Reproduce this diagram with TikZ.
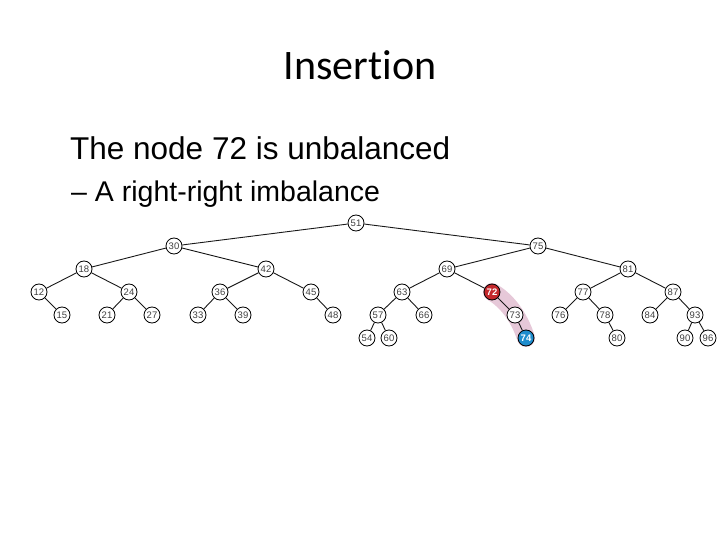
\documentclass[tikz,border=0pt]{standalone}
\usepackage{fontspec}
\setmainfont{Liberation Sans}
\newfontfamily\titlefont[Ligatures=NoCommon]{Carlito}
\usetikzlibrary{backgrounds,positioning}

\definecolor{unbal}{RGB}{196,40,44}
\definecolor{newkey}{RGB}{30,140,205}
\definecolor{band}{RGB}{230,200,216}

\begin{document}
\begin{tikzpicture}[x=1pt,y=-1pt,
  key/.style={circle,draw,line width=0.8pt,fill=white,inner sep=0pt,
    minimum size=16pt,font=\fontsize{9.5}{9.5}\selectfont,text=black!75},
  redkey/.style={key,fill=unbal,text=white,font=\fontsize{9.5}{9.5}\bfseries\selectfont},
  bluekey/.style={key,fill=newkey,text=white,font=\fontsize{9.5}{9.5}\bfseries\selectfont},
  edge/.style={line width=0.9pt,black!90}]
\useasboundingbox (0,0) rectangle (720,540);
\node[anchor=base,font=\titlefont\fontsize{42}{50}\selectfont] (title) at (360,80) {Insertion};
\node[anchor=base west,inner sep=0pt,font=\fontsize{31.5}{38}\selectfont] (line1) at (70,160) {The node 72 is unbalanced};
\node[anchor=base west,inner sep=0pt,font=\fontsize{28.5}{34}\selectfont] (line2) at (71,202) {-- A right-right imbalance};
% the tree
\node[key] (n51) at (356,223) {51};
\node[key] (n30) at (174,246) {30};
\node[key] (n75) at (538,246) {75};
\node[key] (n18) at (84,269) {18};
\node[key] (n42) at (266,269) {42};
\node[key] (n69) at (447,269) {69};
\node[key] (n81) at (628,269) {81};
\node[key] (n12) at (39,292) {12};
\node[key] (n24) at (129,292) {24};
\node[key] (n36) at (220,292) {36};
\node[key] (n45) at (311,292) {45};
\node[key] (n63) at (402,292) {63};
\node[redkey] (n72) at (492,292) {72};
\node[key] (n77) at (583,292) {77};
\node[key] (n87) at (673,292) {87};
\node[key] (n15) at (62,315) {15};
\node[key] (n21) at (107,315) {21};
\node[key] (n27) at (152,315) {27};
\node[key] (n33) at (198,315) {33};
\node[key] (n39) at (243,315) {39};
\node[key] (n48) at (333,315) {48};
\node[key] (n57) at (378,315) {57};
\node[key] (n66) at (424,315) {66};
\node[key] (n73) at (515,315) {73};
\node[key] (n76) at (560,315) {76};
\node[key] (n78) at (605,315) {78};
\node[key] (n84) at (650,315) {84};
\node[key] (n93) at (695,315) {93};
\node[key] (n54) at (367,338) {54};
\node[key] (n60) at (389,338) {60};
\node[bluekey] (n74) at (526,338) {74};
\node[key] (n80) at (617,338) {80};
\node[key] (n90) at (685,338) {90};
\node[key] (n96) at (708,338) {96};
\begin{scope}[on background layer]
\draw[band,line width=18pt,line cap=round,line join=round]
  (n72.center) .. controls (506,300) and (519,316) .. (n74.center);
\foreach \a/\b in {51/30,51/75,30/18,30/42,18/12,18/24,12/15,24/21,24/27,
  42/36,42/45,36/33,36/39,45/48,75/69,75/81,69/63,69/72,63/57,63/66,
  57/54,57/60,72/73,73/74,81/77,81/87,77/76,77/78,78/80,87/84,87/93,
  93/90,93/96}
  \draw[edge] (n\a) -- (n\b);
\end{scope}
\end{tikzpicture}
\end{document}
